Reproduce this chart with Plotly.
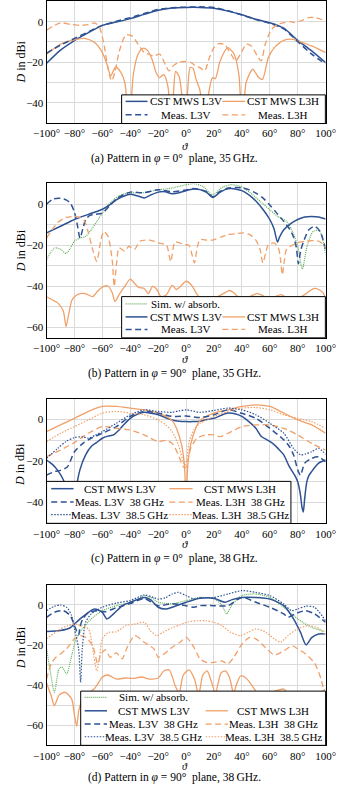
import plotly.graph_objects as go

W, H = 344, 787

# ---------------- data: (a) phi = 0 deg, 35 GHz ----------------
a_cst_v_t = [-100, -90, -80, -70, -60, -50, -40, -30, -20, -10, 0, 10, 20, 30, 40, 50, 60, 70, 80, 90, 100]
a_cst_v = [-20.5, -14, -9.3, -5.4, -1.8, -0.2, 1.5, 3.6, 5.6, 6.7, 7, 7, 6.6, 5.2, 3.4, 1.2, -0.5, -3.2, -9.2, -14.4, -20.2]
a_meas_v_t = [-100, -90, -80, -70, -60, -50, -40, -30, -20, -10, 0, 10, 20, 30, 40, 50, 60, 70, 80, 90, 100]
a_meas_v = [-15.5, -11.5, -8.3, -5, -1.8, 0.2, 2, 4, 6, 6.9, 7.1, 7.3, 7, 5.4, 3.3, 1, -0.8, -3.6, -9.8, -16, -20.8]
a_cst_h_t = [-100, -90, -80, -72, -65.5, -60, -56.7, -54, -50.5, -46.7, -43.7, -41, -37.8, -34.4, -31, -27.8,
             -24.4, -21.5, -19, -16, -13, -10.5, -9, -7.5, -5, -2.5, -1, 1, 3, 5, 7, 10, 13.3, 16, 18.9, 21,
             24.4, 30, 34.4, 37.8, 40.4, 43, 47.8, 52, 54.8, 58.9, 63.3, 70, 76.7, 83.3, 90, 100]
a_cst_h = [-16, -11.1, -9, -8.3, -10.3, -15.2, -20.9, -26.7, -22.3, -25, -30.7, -55, -26, -16, -13.1, -14,
           -18.5, -25, -27.5, -26, -32, -55, -35, -24.5, -27, -40, -55, -35, -22.5, -23, -28, -34, -55, -36,
           -27.5, -28, -19.3, -12.8, -16, -25.9, -55, -30, -23.4, -27.5, -28.4, -17.7, -12.8, -9.2, -8.7,
           -10.3, -11.9, -15.2]
a_meas_h_t = [-100, -90, -83, -76.7, -70, -65.5, -62, -58.9, -55.6, -53.3, -51.1, -47.8, -43.3, -38.9, -34.4,
              -30, -26.7, -23.3, -18.9, -14.4, -12.2, -8.9, -5.6, -1.1, 3.3, 6.7, 10, 13.3, 16.7, 20, 23.3,
              27.8, 32.2, 35.6, 38.9, 43.3, 46.7, 51.1, 53.8, 56.7, 61.1, 65.6, 70, 74.4, 77.8, 83.3, 87.8,
              92.2, 96.7, 100]
a_meas_h = [-4.2, -0.6, -1.3, -1.8, -1.5, -0.6, -2.9, -11.1, -24.2, -29.1, -25, -14.4, -6.7, -7, -11.1,
            -15.2, -16, -16.9, -16, -21.8, -24.2, -21.5, -20.1, -19.6, -20, -21.8, -22.6, -24.2, -17.7, -12.8,
            -10.8, -11.4, -16, -19.3, -16, -11.1, -12, -16.9, -19.3, -11.1, -3.9, -1.3, -0.5, 0, -0.4, 0.7, 2,
            2, 1.2, 0]

# ---------------- data: (b) phi = 90 deg, 35 GHz ----------------
b_sim_t = [-100, -97, -94, -90, -86, -83, -80, -76, -72, -68, -64, -60, -56, -52, -48, -44, -40, -35, -30, -25,
           -20, -15, -10, -5, 0, 5.6, 12, 19, 25.6, 32, 40, 47.8, 54.4, 60, 65.6, 72, 76.7, 80, 83.3, 86.7, 91,
           95.6, 100]
b_sim = [-27, -23.5, -21.3, -22, -24, -21.5, -18, -16.5, -15.7, -12.5, -8.5, -4.4, -0.5, 2, 4, 5, 5.3, 5.5, 5.6,
         6.2, 6.9, 7.3, 7.8, 8.6, 9.4, 9.9, 8.6, 4.5, 8, 9.4, 8.3, 4.5, 0.5, -2.8, -6, -8.4, -14, -20.5, -31.5,
         -20.5, -13.3, -13, -24.5]
b_cst_v_t = [-100, -90, -80, -70, -60, -55, -50, -45, -40, -35, -30, -25, -20, -15, -10, -5, 0, 5, 10, 15, 19,
             24, 28, 32, 36, 40, 45, 50, 55, 60, 63, 65.5, 67, 70, 75, 80, 85, 90, 95, 100]
b_cst_v = [-14, -10.8, -7.5, -5, -2.5, -0.5, 2, 3.8, 4.8, 4, 3, 4.5, 5.8, 6, 5, 5.5, 6.5, 7.3, 7, 5.5, 3.2, 5.5,
           7, 7.5, 7.2, 6.5, 4.5, 1.5, -2.5, -7.5, -12, -18.5, -16, -12.5, -9.5, -7.5, -6.3, -6, -6.3, -7.3]
b_meas_v_t = [-100, -95, -90, -86, -83, -80, -78, -76, -74, -72, -69, -65, -60, -55, -50, -45, -40, -30, -20,
              -10, 0, 5, 10, 15, 19, 24, 30, 35, 40, 45, 50, 55, 60, 65, 70, 74, 77, 79, 80.5, 82, 84, 88, 92,
              96, 100]
b_meas_v = [0, 2.5, 2.8, 2, 0.5, -4, -10, -16.5, -12, -7.6, -5.5, -5, -4.4, -1, 2.5, 4.5, 5.8, 5.5, 7, 6, 6.8,
            7.5, 7, 6, 3.5, 6, 7.8, 8, 7.8, 7, 5.3, 3, -0.5, -4.4, -8.4, -12, -16, -21, -29, -23, -18.5, -12.5,
            -10.8, -13.3, -22]
b_cst_h_t = [-100, -96, -92, -88, -86, -84, -82, -80, -76, -72, -67, -63, -59, -56, -53, -51, -48, -44, -40,
             -37, -34, -30, -27, -24, -21, -18, -14, -10, -7, -4, 0, 4, 8, 12, 16, 20, 24, 28, 31, 34, 38, 42,
             47, 51, 55, 59, 64, 68, 72, 76, 80, 85, 89, 92, 95, 98, 100]
b_cst_h = [-45, -46.5, -48, -52, -59.5, -53, -47, -45, -43.5, -43.5, -45, -42, -40, -39.8, -43, -47.3, -44, -40,
           -36.5, -38.5, -40.5, -41, -43.5, -40, -41.5, -45, -44, -39.5, -41.5, -40, -37.5, -39.5, -44, -47,
           -45, -46, -44.5, -43, -42, -43, -45.5, -46, -44.5, -43.5, -44.5, -46.5, -45, -44, -45.5, -47, -46,
           -44, -42, -41, -41.5, -43, -45.5]
b_meas_h_t = [-100, -92, -86, -80, -76, -73, -70, -67, -64, -61, -59, -56, -53, -51.5, -50, -48, -44, -41, -37,
              -33, -26, -19, -14, -11, -8, -4, -1, 2, 4, 6, 8, 10, 15, 19, 25, 30, 35, 41, 46, 50, 53, 55, 57,
              59, 63, 66, 67.5, 69, 70.5, 72, 79, 86, 95, 100]
b_meas_h = [-16.5, -9, -6.5, -6, -6.5, -8, -14, -22, -27.8, -17.3, -13.3, -15.7, -27, -40, -30, -21.3, -22.9,
            -20.5, -22, -18, -17.5, -19, -20, -28, -18.5, -19, -19.7, -20, -24, -28.6, -21, -17.3, -17.5,
            -17.5, -16, -14.8, -14.5, -14, -15, -17.5, -22, -28.6, -24, -19.7, -18.9, -21, -26, -34.3, -27,
            -22, -19, -18, -18, -21]

# ---------------- data: (c) phi = 0 deg, 38 GHz ----------------
c_cst_v_t = [-100, -96, -92, -88, -85, -83, -81, -79, -76, -72, -68, -64, -60, -56, -52, -48, -44, -40, -35,
             -30, -25, -20, -15, -10, -5, 0, 5, 10, 15, 20, 25, 30, 35, 40, 45, 50, 54, 58, 62, 66, 70, 74, 78,
             80, 82, 83, 84, 85, 86.5, 88, 90, 95, 100]
c_cst_v = [-19.5, -21.5, -24.5, -29, -35, -45, -45, -34, -24, -17, -13, -11, -9, -8, -7.4, -5, -2, 0.6, 2.5,
           3.5, 3, 2.3, 1, -0.2, -0.8, -1, -1, -0.8, 0, 0.6, 2, 3.1, 2.8, 1.5, -1, -4.2, -8.2, -9.8, -11.5,
           -14, -17, -22.7, -27, -30, -36.5, -42, -44.5, -38, -30, -27, -25, -21, -19.5]
c_m38_v_t = [-100, -94, -90, -85, -80, -74, -68, -60, -50, -40, -30, -20, -10, 0, 10, 20, 30, 40, 50, 60, 70,
             74, 77, 80, 82, 85, 90, 95, 100]
c_m38_v = [-26.8, -25, -24.5, -22.7, -15.5, -11.5, -9, -6.6, -3.4, 1.5, 3.9, 3.1, 1.5, 1.7, 1, 2.3, 4.7, 3, 0.6,
           -4.2, -9.8, -13, -17, -24.2, -26.8, -21, -18.7, -18, -20.3]
c_m385_v_t = [-100, -92, -86, -80, -74, -70, -65, -60, -50, -40, -30, -20, -10, -5, 0, 10, 20, 30, 40, 50, 60,
              70, 77, 82, 86, 90, 95, 100]
c_m385_v = [-18.7, -13.9, -10.6, -8.7, -8.3, -9, -7.5, -5.8, -1.8, 2.3, 4.7, 3.9, 3.5, 4.2, 4.7, 3.5, 4.4, 5.5,
            4.7, 2.3, -1.8, -6.6, -13.9, -17, -16.5, -15.5, -13.9, -16.8]
c_cst_h_t = [-100, -90, -80, -70, -60, -50, -40, -30, -20, -14.5, -10, -6.7, -3.3, -1.5, -0.8, 0, 0.8, 1.5, 3.3,
             6.7, 10, 14.5, 20, 30, 40, 50, 60, 70, 80, 90, 100]
c_cst_h = [-5.8, -2.6, 0.6, 3.9, 6.3, 6.3, 5.5, 4.7, 3.1, 1.5, -0.5, -4.5, -12, -20, -27, -45, -27, -20, -12,
           -4.5, -0.5, 1.5, 3.1, 4.7, 6.3, 7.1, 6.3, 3.1, -0.2, -2.6, -6.6]
c_m38_h_t = [-100, -90, -80, -70, -60, -50, -40, -30, -20, -14.5, -10, -5.5, -2, 0, 1.5, 3.3, 7.8, 14.4, 20,
             24.4, 30, 40, 50, 60, 70, 80, 90, 100]
c_m38_h = [-17.9, -14.7, -11, -6.6, -3.4, -4.2, -5, -7.4, -10.6, -10, -11.5, -17, -22.7, -23, -19, -13.9, -9,
           -7.4, -7.4, -8.2, -6.6, -3.4, -2.6, -2.6, -4.2, -7.4, -11.5, -14.7]
c_m385_h_t = [-100, -90, -80, -70, -60, -50, -40, -30, -20, -14.5, -10, -5.5, -2, -0.7, 0.5, 2.2, 5.5, 10, 20,
              30, 40, 50, 60, 70, 80, 90, 100]
c_m385_h = [-10.6, -6.6, -3.4, -0.2, 3.1, 3.9, 3.1, 2.3, -0.2, -2.6, -5.8, -12.3, -20.3, -21.9, -19, -10.6, -5,
            -1.8, 1.5, 3.9, 5.5, 5.8, 4.7, 2.3, 0.6, -1, -4.2]

# ---------------- data: (d) phi = 90 deg, 38 GHz ----------------
d_sim_t = [-100, -97.8, -94.4, -91, -88.9, -85.6, -82, -78.9, -74.4, -68, -60, -50, -40, -35, -30, -25, -20,
           -10, 0, 10, 20, 25.5, 29, 33, 40, 50, 60, 70, 80, 90, 100]
d_sim = [-22, -31, -43.6, -31.8, -31, -34.5, -25.4, -17.1, -12.1, -7.1, -3, -0.5, 1, 2.5, 4.5, 3.5, 1.2, 0.5, 2,
         3.6, 2.8, 0, -4.6, 0, 4.5, 5.3, 3.6, -1.3, -7.1, -11.3, -13.4]
d_cst_v_t = [-100, -90, -83, -80, -76, -70, -65.5, -60, -56.7, -52, -45.6, -40, -30, -25.5, -20, -14.5, -10, 0,
             10, 20, 27.8, 33, 40, 50, 60, 70, 77, 82, 86, 90, 95, 100]
d_cst_v = [-13.4, -12.9, -11.5, -9.6, -7.1, -3.8, -2.2, -3.8, -7.1, -4.6, -0.5, 1.2, 3.6, 2.5, -1.3, -2.2, -1.3,
           1.2, 3.2, 3.2, 1.2, 2.5, 3.6, 3.6, 2.8, -0.5, -7.1, -13.8, -20, -16.4, -14.6, -14.6]
d_m38_v_t = [-100, -94.4, -88, -83, -80, -78, -77, -76, -74, -70, -64, -58, -52, -45, -40, -30, -20, -10, 0,
             5.6, 10, 20, 30, 40, 50, 60, 70, 73, 78, 85.6, 92, 100]
d_m38_v = [-6.3, -3.8, -3, -5.5, -10.4, -14, -15, -11, -7, -4, -3, -3.5, -2, -0.5, 0.5, 3, -0.5, 0.5, -0.5,
           -1.3, -0.5, -0.5, -0.5, 3.6, 1.2, -1.3, -4.6, -6.3, -4.6, -3, -4.6, -8.8]
d_m385_v_t = [-100, -94.4, -90, -85.6, -82, -80, -77, -75.6, -74.4, -72, -68, -60, -50, -40, -30, -23, -20,
              -14.5, -10, -5.6, 0, 5.6, 10, 20, 30, 40, 50, 60, 70, 75.5, 80, 85.6, 92, 100]
d_m385_v = [-3, -0.8, -0.2, -1.3, -5.5, -12.1, -22, -38.6, -22, -8.8, -4.6, -1.3, 0.8, 2, 4.8, 3.5, 2.8, 3.5,
            5.3, 6.1, 4.5, 2.8, 3.5, 3.6, 5.3, 7, 6.1, 4.5, 0.3, -3, -2.2, -0.8, -1.3, -8]
d_cst_h_t = [-100, -96.7, -94.4, -91, -86.7, -82, -80, -78.4, -76.7, -74, -70, -66, -62, -60, -56, -50, -44,
             -38, -32, -26, -20, -16, -12, -8, -5, -2, 2, 6, 9, 12, 15, 18, 21, 25, 28, 31, 34, 36, 39, 42, 46,
             50, 54, 60, 66, 70, 75, 80, 86, 92, 98, 100]
d_cst_h = [-39, -45.3, -50.2, -45, -43.6, -47, -55, -60.5, -52, -47, -44, -42, -38, -36, -35, -37, -36.5, -36.7,
           -36, -37, -36.5, -33, -32.5, -40, -44, -35, -32.5, -37, -45, -35, -33, -38, -44, -34, -33, -36, -44,
           -40, -35.5, -36, -39, -43, -46, -44, -42.5, -42, -46, -50, -48, -45, -43, -42]
d_m38_h_t = [-100, -96.7, -93.3, -90, -85.6, -80, -75.6, -71, -66.7, -63.3, -61, -57.8, -54.4, -50, -46, -42,
             -36.7, -30, -23, -20, -16.7, -10, -4.4, 0, 5.6, 10, 14.4, 20, 25.6, 30, 34.4, 40, 45.6, 50, 56.7,
             63.3, 70, 76, 80, 85.6, 92, 96.7, 100]
d_m38_h = [-37, -29.5, -26.2, -24.5, -22, -17, -15.4, -16.7, -21, -29.5, -24.5, -22.5, -26.2, -24, -27, -21,
           -15.4, -18.7, -22, -26.2, -25, -21.2, -18.7, -16.3, -21.2, -27, -28.7, -28.7, -28, -29.5, -26, -19.6,
           -16.3, -17, -21.2, -25, -23, -20.5, -22, -24.5, -29, -37, -48]
d_m385_h_t = [-100, -90, -85, -80, -75.6, -70, -68, -66, -64, -62, -60, -55.6, -50, -43, -36.7, -30, -25.6,
              -21, -16.7, -10, -4.4, 0, 7.8, 14.4, 20, 25.6, 32, 38.9, 44.4, 50, 56.7, 63.3, 67.8, 73, 80, 87.8,
              95.6, 100]
d_m385_h = [-17, -12.1, -10.5, -9.6, -10.4, -12.1, -17, -26, -33, -26, -17, -13.8, -13.5, -10.4, -9.6, -8.8,
            -12.9, -15.4, -13.8, -11.5, -10.1, -8.8, -8, -8, -8.8, -10.4, -13.8, -15.4, -13.8, -12.1, -13.5,
            -17.1, -18.7, -15.4, -12.1, -10.4, -12, -15.4]

# ---------------- texts ----------------
captions = ["(a) Pattern in <i>φ</i> = 0°  plane, 35\u2009GHz.",
            "(b) Pattern in <i>φ</i> = 90°  plane, 35\u2009GHz.",
            "(c) Pattern in <i>φ</i> = 0°  plane, 38\u2009GHz.",
            "(d) Pattern in <i>φ</i> = 90°  plane, 38\u2009GHz."]
y_ranges = [[-50, 10], [-65, 10], [-50, 10], [-70, 10]]

# ---------------- styles ----------------
BLUE = "rgb(47,82,148)"
ORANGE = "rgb(240,160,104)"
GREEN = "rgb(96,176,88)"
GRID = "rgb(218,218,218)"
FONT = "Liberation Serif"
DASH = "6px,3.5px"
DOT = "1.5px,1.5px"

STYLE = {
    "sim": dict(color=GREEN, width=1.2, dash="1px,1px"),
    "cst_v": dict(color=BLUE, width=1.5, dash="solid"),
    "cst_h": dict(color=ORANGE, width=1.3, dash="solid"),
    "meas_v": dict(color=BLUE, width=1.5, dash=DASH),
    "meas_h": dict(color=ORANGE, width=1.3, dash=DASH),
    "dot_v": dict(color=BLUE, width=1.2, dash=DOT),
    "dot_h": dict(color=ORANGE, width=1.2, dash=DOT),
}


def px(x):
    return x / W


def py(y):
    return 1 - y / H


# panel pixel boxes: top, bottom
panels = [(0.35, 122.45), (182.7, 337.3), (398.3, 523), (584.3, 745.3)]

series = [
    [("cst_v", a_cst_v_t, a_cst_v), ("cst_h", a_cst_h_t, a_cst_h),
     ("meas_v", a_meas_v_t, a_meas_v), ("meas_h", a_meas_h_t, a_meas_h)],
    [("sim", b_sim_t, b_sim), ("cst_v", b_cst_v_t, b_cst_v), ("cst_h", b_cst_h_t, b_cst_h),
     ("meas_v", b_meas_v_t, b_meas_v), ("meas_h", b_meas_h_t, b_meas_h)],
    [("cst_v", c_cst_v_t, c_cst_v), ("cst_h", c_cst_h_t, c_cst_h), ("meas_v", c_m38_v_t, c_m38_v),
     ("meas_h", c_m38_h_t, c_m38_h), ("dot_v", c_m385_v_t, c_m385_v), ("dot_h", c_m385_h_t, c_m385_h)],
    [("sim", d_sim_t, d_sim), ("cst_v", d_cst_v_t, d_cst_v), ("cst_h", d_cst_h_t, d_cst_h),
     ("meas_v", d_m38_v_t, d_m38_v), ("meas_h", d_m38_h_t, d_m38_h), ("dot_v", d_m385_v_t, d_m385_v),
     ("dot_h", d_m385_h_t, d_m385_h)],
]

fig = go.Figure()
layout = {}
for i, (top, bottom) in enumerate(panels):
    n = "" if i == 0 else str(i + 1)
    for key, t, v in series[i]:
        fig.add_trace(go.Scatter(x=t, y=v, mode="lines", line=STYLE[key], line_shape="spline",
                                 line_smoothing=0.7, showlegend=False, hoverinfo="skip",
                                 xaxis="x" + n, yaxis="y" + n))
    axis_common = dict(showline=True, mirror=True, linecolor="black", linewidth=1, zeroline=False,
                       showgrid=True, gridcolor=GRID, gridwidth=1, ticks="",
                       tickfont=dict(family=FONT, size=11, color="black"))
    layout["xaxis" + n] = dict(axis_common, domain=[px(35), px(335)], range=[-100, 100], dtick=20, tick0=0,
                               ticksuffix="°", anchor="y" + n, ticklabeloverflow="allow")
    layout["yaxis" + n] = dict(axis_common, domain=[py(bottom), py(top)], range=y_ranges[i], dtick=20,
                               tick0=0, anchor="x" + n,
                               minor=dict(dtick=10, tick0=0, showgrid=True, gridcolor=GRID, gridwidth=1))

# ---------------- legends (drawn as boxes) ----------------
legends = [
    dict(box=(115.7, 94, 334.7, 122.7), rows=[100.5, 114], cols=[(120, 143.5, 184.5), (224, 248.5, 289.5)],
         items=[(0, 0, "cst_v", "CST MWS L3V"), (0, 1, "cst_h", "CST MWS L3H"),
                (1, 0, "meas_v", "Meas. L3V"), (1, 1, "meas_h", "Meas. L3H")]),
    dict(box=(115.7, 296, 334.7, 337.3), rows=[303.3, 316.3, 328.8],
         cols=[(120, 143.5, 184.5), (224, 248.5, 289.5)],
         items=[(0, 0, "sim", "Sim. w/ absorb."), (1, 0, "cst_v", "CST MWS L3V"), (1, 1, "cst_h", "CST MWS L3H"),
                (2, 0, "meas_v", "Meas. L3V"), (2, 1, "meas_h", "Meas. L3H")]),
    dict(box=(35, 481, 297.7, 523), rows=[488.3, 501.7, 514.2], cols=[(40, 64, 113.5), (167, 192, 243)],
         items=[(0, 0, "cst_v", "CST MWS L3V"), (0, 1, "cst_h", "CST MWS L3H"),
                (1, 0, "meas_v", "Meas. L3V  38\u2009GHz"), (1, 1, "meas_h", "Meas. L3H  38\u2009GHz"),
                (2, 0, "dot_v", "Meas. L3V  38.5\u2009GHz"), (2, 1, "dot_h", "Meas. L3H  38.5\u2009GHz")]),
    dict(box=(71.7, 691, 335, 745.3), rows=[697.3, 710.7, 724, 736.7], cols=[(76, 100, 150), (206, 230, 278.5)],
         items=[(0, 0, "sim", "Sim. w/ absorb."), (1, 0, "cst_v", "CST MWS L3V"), (1, 1, "cst_h", "CST MWS L3H"),
                (2, 0, "meas_v", "Meas. L3V  38\u2009GHz"), (2, 1, "meas_h", "Meas. L3H  38\u2009GHz"),
                (3, 0, "dot_v", "Meas. L3V  38.5\u2009GHz"), (3, 1, "dot_h", "Meas. L3H  38.5\u2009GHz")]),
]

shapes = []
annotations = []
for leg in legends:
    x0, y0, x1, y1 = leg["box"]
    shapes.append(dict(type="rect", xref="paper", yref="paper", x0=px(x0), x1=px(x1), y0=py(y1), y1=py(y0),
                       fillcolor="white", line=dict(color="black", width=1), layer="above"))
    for r, c, key, label in leg["items"]:
        sx0, sx1, tx = leg["cols"][c]
        yy = py(leg["rows"][r])
        st = STYLE[key]
        shapes.append(dict(type="line", xref="paper", yref="paper", x0=px(sx0), x1=px(sx1), y0=yy, y1=yy,
                           line=dict(color=st["color"], width=st["width"], dash=st["dash"]), layer="above"))
        annotations.append(dict(text=label, xref="paper", yref="paper", x=px(tx), y=yy, xanchor="center",
                                yanchor="middle", showarrow=False,
                                font=dict(family=FONT, size=11, color="black")))

# axis titles and captions
ylab_y = [61, 250, 464, 647.5]
theta_y = [145, 358.5, 543.5, 766]
theta_size = [11, 11, 11, 10]
cap_y = [158, 373, 558, 777.5]
for i in range(4):
    annotations.append(dict(text="<i>D</i> in dBi", xref="paper", yref="paper", x=px(7), y=py(ylab_y[i]),
                            textangle=-90, showarrow=False, xanchor="center", yanchor="middle",
                            font=dict(family=FONT, size=12, color="black")))
    annotations.append(dict(text="<i>ϑ</i>", xref="paper", yref="paper", x=px(184), y=py(theta_y[i]),
                            showarrow=False, xanchor="center", yanchor="middle",
                            font=dict(family=FONT, size=theta_size[i], color="black")))
    annotations.append(dict(text=captions[i], xref="paper", yref="paper", x=px(172), y=py(cap_y[i]),
                            showarrow=False, xanchor="center", yanchor="middle",
                            font=dict(family=FONT, size=11.5, color="black")))

fig.update_layout(
    width=W, height=H,
    margin=dict(l=0, r=0, t=0, b=0),
    paper_bgcolor="white", plot_bgcolor="white",
    shapes=shapes, annotations=annotations,
    **layout
)

fig.write_html("out.html", config={"displayModeBar": False},
               post_script="document.body.style.margin='0';document.body.style.overflow='hidden';")
